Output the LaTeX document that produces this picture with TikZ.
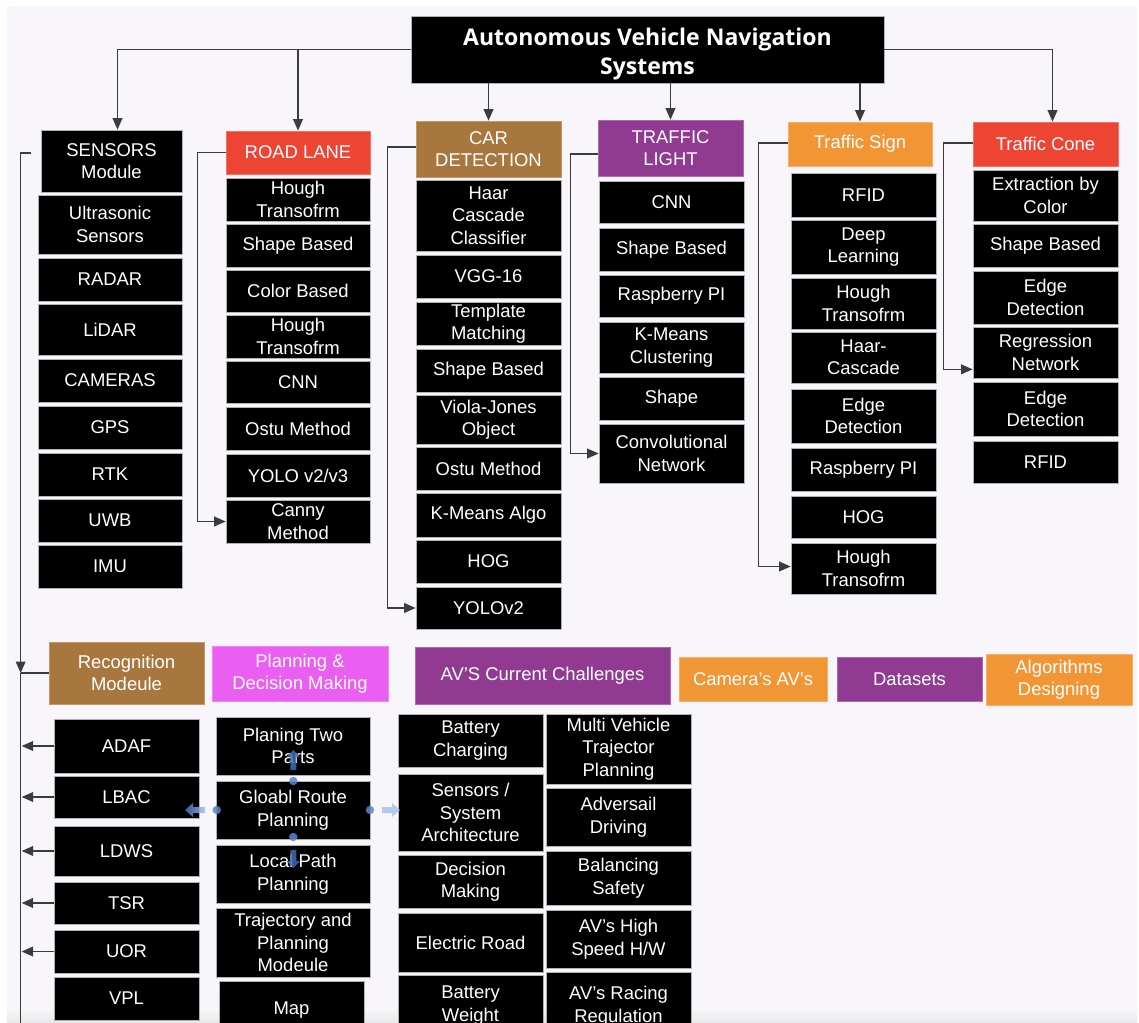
\documentclass[tikz,border=0pt]{standalone}
\usepackage{fontspec}
\setmainfont{Liberation Sans}
\newfontfamily\ttlfont{Open Sans}
\usetikzlibrary{arrows.meta,calc}

\definecolor{bgcol}{HTML}{F8F6FB}
\definecolor{linecol}{HTML}{3C3C3C}
\definecolor{hred}{HTML}{EE4433}
\definecolor{hbrown}{HTML}{A8773E}
\definecolor{hpurple}{HTML}{913A91}
\definecolor{horange}{HTML}{F29535}
\definecolor{hmagenta}{HTML}{EA5EF2}
\definecolor{hovdark}{HTML}{3F6DB3}
\definecolor{hovlight}{HTML}{A5C4EE}
\definecolor{hovdot}{HTML}{5A86C8}

% box placed by its corner coordinates: style, name, x1, y1, x2, y2, text
\newcommand\boxat[7]{%
  \pgfmathsetmacro\bxw{0.02*(#5-#3)}%
  \pgfmathsetmacro\bxh{0.02*(#6-#4)}%
  \node[#1,minimum width=\bxw cm,minimum height=\bxh cm] (#2) at ({(#3+#5)/2},{(#4+#6)/2}) {#7};}

\tikzset{
  bk/.style={fill=black, draw=gray!60, line width=0.4pt, text=white, align=center,
             inner sep=0pt, font=\fontsize{10.5}{12.8}\selectfont},
  hd/.style={bk, fill=#1, draw=#1!75!white},
  ttl/.style={bk, font=\ttlfont\bfseries\fontsize{13.1}{16.4}\selectfont},
  conn/.style={draw=linecol, line width=0.8pt},
  arr/.style={conn, -{Triangle[length=6.5pt,width=5.5pt]}},
  hov/.style={opacity=0.85}
}

\begin{document}
\begin{tikzpicture}[x=0.02cm,y=-0.02cm]
\useasboundingbox (0,0) rectangle (1139,1023);
\clip (0,0) rectangle (1139,1023);

% page and canvas
\fill[white] (0,0) rectangle (1139,1023);
\fill[bgcol] (7,6) rectangle (1137,1023);
\shade[top color=bgcol, bottom color=gray!18] (7,1008) rectangle (1137,1023);

% title (text set a little below the box centre)
\boxat{ttl}{title}{411}{16}{884}{83}{\raisebox{-2.8pt}[\height][\depth]{\begin{tabular}{@{}c@{}}Autonomous Vehicle Navigation\\Systems\end{tabular}}}

% sensors
\boxat{bk}{sensors}{41}{130}{182}{192}{SENSORS\\Module}
\boxat{bk}{ultra}{38}{195}{182}{254}{Ultrasonic\\Sensors}
\boxat{bk}{radar}{38}{258}{182}{301}{RADAR}
\boxat{bk}{lidar}{38}{304}{182}{355}{LiDAR}
\boxat{bk}{cameras}{38}{359}{182}{402}{CAMERAS}
\boxat{bk}{gps}{38}{406}{182}{449}{GPS}
\boxat{bk}{rtk}{38}{453}{182}{496}{RTK}
\boxat{bk}{uwb}{38}{499}{182}{542}{UWB}
\boxat{bk}{imu}{38}{545}{182}{588}{IMU}

% road lane
\boxat{hd=hred}{road}{226}{131}{370}{174}{ROAD LANE}
\boxat{bk}{rl1}{226}{178}{370}{221}{Hough\\Transofrm}
\boxat{bk}{rl2}{226}{224}{370}{267}{Shape Based}
\boxat{bk}{rl3}{226}{270}{370}{312}{Color Based}
\boxat{bk}{rl4}{226}{315}{370}{358}{Hough\\Transofrm}
\boxat{bk}{rl5}{226}{361}{370}{403}{CNN}
\boxat{bk}{rl6}{226}{407}{370}{450}{Ostu Method}
\boxat{bk}{rl7}{226}{454}{370}{497}{YOLO v2/v3}
\boxat{bk}{rl8}{226}{500}{370}{543}{Canny\\Method}

% car detection
\boxat{hd=hbrown}{car}{416}{121}{561}{177}{CAR\\DETECTION}
\boxat{bk}{cd1}{416}{180}{561}{251}{Haar\\Cascade\\Classifier}
\boxat{bk}{cd2}{416}{255}{561}{298}{VGG-16}
\boxat{bk}{cd3}{416}{302}{561}{345}{Template\\Matching}
\boxat{bk}{cd4}{416}{349}{561}{392}{Shape Based}
\boxat{bk}{cd5}{416}{395}{561}{444}{Viola-Jones\\Object}
\boxat{bk}{cd6}{416}{447}{561}{490}{Ostu Method}
\boxat{bk}{cd7}{416}{493}{561}{537}{K-Means Algo}
\boxat{bk}{cd8}{416}{540}{561}{583}{HOG}
\boxat{bk}{cd9}{416}{587}{561}{629}{YOLOv2}

% traffic light
\boxat{hd=hpurple}{tl}{598}{120}{743}{176}{TRAFFIC\\LIGHT}
\boxat{bk}{tl1}{599}{181}{744}{223}{CNN}
\boxat{bk}{tl2}{599}{228}{744}{271}{Shape Based}
\boxat{bk}{tl3}{599}{275}{744}{317}{Raspberry PI}
\boxat{bk}{tl4}{599}{322}{744}{373}{K-Means\\Clustering}
\boxat{bk}{tl5}{599}{377}{744}{420}{Shape}
\boxat{bk}{tl6}{599}{424}{744}{483}{Convolutional\\Network}

% traffic sign
\boxat{hd=horange}{ts}{788}{122}{932}{166}{Traffic Sign}
\boxat{bk}{ts1}{791}{173}{936}{217}{RFID}
\boxat{bk}{ts2}{791}{220}{936}{274}{Deep\\Learning}
\boxat{bk}{ts3}{791}{278}{936}{329}{Hough\\Transofrm}
\boxat{bk}{ts4}{791}{332}{936}{383}{Haar-\\Cascade}
\boxat{bk}{ts5}{791}{389}{936}{443}{Edge\\Detection}
\boxat{bk}{ts6}{791}{448}{936}{491}{Raspberry PI}
\boxat{bk}{ts7}{791}{496}{936}{538}{HOG}
\boxat{bk}{ts8}{791}{543}{936}{594}{Hough\\Transofrm}

% traffic cone
\boxat{hd=hred}{tc}{973}{122}{1118}{166}{Traffic Cone}
\boxat{bk}{tc1}{973}{170}{1118}{221}{Extraction by\\Color}
\boxat{bk}{tc2}{973}{224}{1118}{267}{Shape Based}
\boxat{bk}{tc3}{973}{271}{1118}{324}{Edge\\Detection}
\boxat{bk}{tc4}{973}{327}{1118}{378}{Regression\\Network}
\boxat{bk}{tc5}{973}{382}{1118}{436}{Edge\\Detection}
\boxat{bk}{tc6}{973}{441}{1118}{483}{RFID}

% lower headers
\boxat{hd=hbrown}{recog}{49}{642}{204}{704}{Recognition\\Modeule}
\boxat{hd=hmagenta}{plan}{212}{646}{388}{701}{Planning \&\\Decision Making}
\boxat{hd=hpurple}{chal}{415}{647}{670}{704}{AV'S Current Challenges}
\boxat{hd=horange}{cam}{679}{657}{827}{701}{Camera's AV's}
\boxat{hd=hpurple}{data}{837}{657}{982}{701}{Datasets}
\boxat{hd=horange}{algo}{986}{654}{1132}{705}{Algorithms\\Designing}

% recognition items
\boxat{bk}{adaf}{54}{719}{199}{773}{ADAF}
\boxat{bk}{lbac}{54}{776}{199}{818}{LBAC}
\boxat{bk}{ldws}{54}{826}{199}{876}{LDWS}
\boxat{bk}{tsr}{54}{882}{199}{924}{TSR}
\boxat{bk}{uor}{54}{930}{199}{973}{UOR}
\boxat{bk}{vpl}{54}{977}{199}{1020}{VPL}

% planning items
\boxat{bk}{p1}{216}{717}{370}{775}{Planing Two\\Parts}
\boxat{bk}{p2}{216}{781}{370}{839}{Gloabl Route\\Planning}
\boxat{bk}{p3}{216}{845}{370}{903}{Local Path\\Planning}
\boxat{bk}{p4}{216}{908}{370}{977}{Trajectory and\\Planning\\Modeule}
\boxat{bk}{p5}{219}{981}{364}{1040}{Map}

% challenges
\boxat{bk}{c1}{398}{714}{543}{767}{Battery\\Charging}
\boxat{bk}{c2}{398}{774}{543}{851}{Sensors /\\System\\Architecture}
\boxat{bk}{c3}{398}{855}{543}{908}{Decision\\Making}
\boxat{bk}{c4}{398}{913}{543}{972}{Electric Road}
\boxat{bk}{c5}{398}{975}{543}{1036}{Battery\\Weight}
\boxat{bk}{d1}{546}{714}{691}{784}{Multi Vehicle\\Trajector\\Planning}
\boxat{bk}{d2}{546}{788}{691}{846}{Adversail\\Driving}
\boxat{bk}{d3}{546}{851}{691}{905}{Balancing\\Safety}
\boxat{bk}{d4}{546}{910}{691}{968}{AV's High\\Speed H/W}
\boxat{bk}{d5}{546}{972}{691}{1040}{AV's Racing\\Regulation}

% branches from the title
\draw[arr] (title.west) -| ($(sensors.north)+(6,0)$);
\draw[arr] (road.north |- title.west) -- (road.north);
\draw[arr] (car.north |- title.south) -- (car.north);
\draw[arr] (tl.north |- title.south) -- (tl.north);
\draw[arr] (ts.north |- title.south) -- (ts.north);
\draw[arr] (title.east) -| ($(tc.north)+(7,0)$);

% brackets down each column
\draw[arr] (road.west) -- ++(-28,0) |- (rl8.west);
\draw[arr] ($(car.west)+(0,-2)$) -- ++(-28,0) |- (cd9.west);
\draw[arr] ($(tl.west)+(0,6)$) -- ++(-27,0) |- (tl6.west);
\draw[arr] ($(ts.west)+(0,-1)$) -- ++(-29,0) |- ($(ts8.west)+(0,-2)$);
\draw[arr] ($(tc.west)+(0,-1)$) -- ++(-29,0) |- ($(tc4.south west)+(0,-9)$);

% left spine from the sensors module to the recognition module
\coordinate (spinetop) at ($(sensors.west)+(-10,-8)$);
\coordinate (spinex) at ($(spinetop)+(-10,0)$);
\coordinate (spinejoin) at (spinex |- recog.west);
\coordinate (spinebot) at ($(spinejoin)+(0,400)$);
\draw[arr] (spinetop) -- (spinex) -- (spinejoin);
\draw[conn] (spinejoin) -- (recog.west);
\draw[conn] (spinejoin) -- (spinebot);
\foreach \n in {adaf,lbac,ldws,tsr,uor}
  \draw[arr] (\n.west) -- ($(\n.west -| spinex)+(1,0)$);

% hover handles around the global route planning box
\begin{scope}[hov]
  \shade[left color=hovdark, right color=hovlight]
    (185,810) -- (193,803) -- (193,807) -- (205,807) -- (205,813) -- (193,813) -- (193,817) -- cycle;
  \fill[hovlight] (400,810) -- (392,803) -- (392,807) -- (382,807) -- (382,813) -- (392,813) -- (392,817) -- cycle;
  \fill[hovdark] (293.3,750) -- (286.5,757) -- (290.3,757) -- (290.3,770) -- (296.3,770) -- (296.3,757) -- (300.1,757) -- cycle;
  \fill[hovdark] (293.3,868) -- (286.5,861) -- (290.3,861) -- (290.3,850) -- (296.3,850) -- (296.3,861) -- (300.1,861) -- cycle;
  \fill[hovdot] (216.7,810) circle[radius=2.4pt];
  \fill[hovdot] (370,810) circle[radius=2.4pt];
  \fill[hovdot] (293.3,781) circle[radius=2.4pt];
  \fill[hovdot] (293.3,837) circle[radius=2.4pt];
\end{scope}

\end{tikzpicture}
\end{document}
